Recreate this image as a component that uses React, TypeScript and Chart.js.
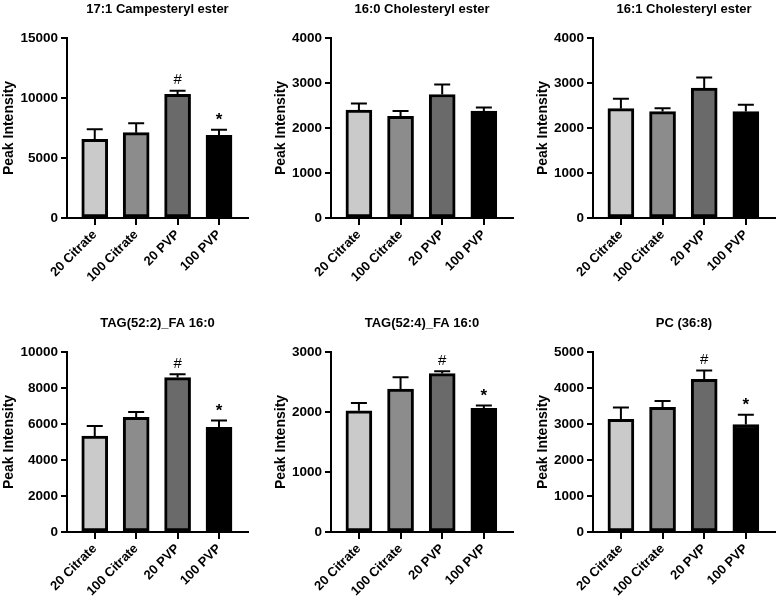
import React, { useEffect, useRef } from 'react';
import { Chart, registerables } from 'chart.js';

Chart.register(...registerables);

// ---------- data ----------
const categories = ['20 Citrate', '100 Citrate', '20 PVP', '100 PVP'];
const barColors = ['#cacaca', '#8c8c8c', '#6a6a6a', '#000000'];
const yAxisTitle = 'Peak Intensity';

const campesterylTitle = '17:1 Campesteryl ester';
const campesterylMean = [6560, 7110, 10310, 6890];
const campesterylSem = [830, 780, 300, 470];
const campesterylMarks = ['', '', '#', '*'];
const campesterylTicks = [0, 5000, 10000, 15000];

const chol160Title = '16:0 Cholesteryl ester';
const chol160Mean = [2400, 2260, 2745, 2375];
const chol160Sem = [145, 120, 220, 80];
const chol160Marks = ['', '', '', ''];
const chol160Ticks = [0, 1000, 2000, 3000, 4000];

const chol161Title = '16:1 Cholesteryl ester';
const chol161Mean = [2430, 2365, 2885, 2365];
const chol161Sem = [220, 75, 235, 150];
const chol161Marks = ['', '', '', ''];
const chol161Ticks = [0, 1000, 2000, 3000, 4000];

const tag522Title = 'TAG(52:2)_FA 16:0';
const tag522Mean = [5330, 6370, 8580, 5820];
const tag522Sem = [560, 300, 180, 370];
const tag522Marks = ['', '', '#', '*'];
const tag522Ticks = [0, 2000, 4000, 6000, 8000, 10000];

const tag524Title = 'TAG(52:4)_FA 16:0';
const tag524Mean = [2020, 2380, 2640, 2060];
const tag524Sem = [130, 200, 40, 47];
const tag524Marks = ['', '', '#', '*'];
const tag524Ticks = [0, 1000, 2000, 3000];

const pcTitle = 'PC (36:8)';
const pcMean = [3130, 3465, 4240, 2985];
const pcSem = [325, 175, 245, 275];
const pcMarks = ['', '', '#', '*'];
const pcTicks = [0, 1000, 2000, 3000, 4000, 5000];

// ---------- layout ----------
const FONT = '"Liberation Sans", Arial, Helvetica, sans-serif';

type PanelProps = {
  title: string;
  mean: number[];
  sem: number[];
  marks: string[];
  ticks: number[];
  left: number;
  top: number;
  width: number;
  yWidth: number;
  padRight: number;
};

const errorBarPlugin = {
  id: 'errorBars',
  afterDatasetsDraw(chart: any, _args: any, opts: any) {
    const { ctx } = chart;
    const xs = chart.scales.x;
    const ys = chart.scales.y;
    const mean: number[] = opts.mean;
    const sem: number[] = opts.sem;
    const marks: string[] = opts.marks;
    ctx.save();
    ctx.strokeStyle = '#000';
    ctx.lineWidth = 2;
    mean.forEach((m, i) => {
      const x = xs.getPixelForValue(i);
      const yb = ys.getPixelForValue(m);
      const yt = ys.getPixelForValue(m + sem[i]);
      ctx.beginPath();
      ctx.moveTo(x, yb);
      ctx.lineTo(x, yt);
      ctx.moveTo(x - 8, yt);
      ctx.lineTo(x + 8, yt);
      ctx.stroke();
      if (marks[i]) {
        ctx.fillStyle = '#000';
        ctx.font = marks[i] === '*' ? `bold 17px ${FONT}` : `15px ${FONT}`;
        ctx.textAlign = 'center';
        ctx.textBaseline = 'bottom';
        ctx.fillText(marks[i], x, marks[i] === '*' ? yt - 1 : yt - 3);
      }
    });
    ctx.restore();
  },
};

function Panel(p: PanelProps) {
  const ref = useRef<HTMLCanvasElement | null>(null);
  useEffect(() => {
    if (!ref.current) return;
    const chart = new Chart(ref.current, {
      type: 'bar',
      data: {
        datasets: [
          {
            data: p.mean.map((v, i) => ({ x: i, y: v })) as any,
            backgroundColor: barColors,
            borderColor: '#000',
            borderWidth: 3,
            borderSkipped: false,
            barThickness: 26,
          } as any,
        ],
      },
      options: {
        animation: false,
        responsive: false,
        devicePixelRatio: 1,
        layout: { padding: { left: 0, right: p.padRight, top: 0, bottom: 0 } },
        plugins: {
          legend: { display: false },
          tooltip: { enabled: false },
          title: {
            display: true,
            text: p.title,
            fullSize: false,
            color: '#000',
            font: { family: FONT, size: 13, weight: 'bold' },
            padding: { top: 2, bottom: 20.4 },
          },
          errorBars: { mean: p.mean, sem: p.sem, marks: p.marks },
        } as any,
        scales: {
          x: {
            type: 'linear',
            offset: false,
            min: -0.67,
            max: 3.7,
            afterBuildTicks: (s: any) => {
              s.ticks = categories.map((_, i) => ({ value: i }));
            },
            afterFit: (s: any) => {
              s.height = 82;
            },
            ticks: {
              callback: (v: any) => categories[v] ?? '',
              autoSkip: false,
              maxRotation: 45,
              minRotation: 45,
              color: '#000',
              font: { family: FONT, size: 13, weight: 'bold' },
              padding: 2,
            },
            grid: {
              display: true,
              offset: false,
              drawOnChartArea: false,
              drawTicks: true,
              tickLength: 7,
              color: '#000',
              lineWidth: 2,
            },
            border: { display: true, color: '#000', width: 2 },
          },
          y: {
            type: 'linear',
            min: 0,
            max: p.ticks[p.ticks.length - 1],
            afterBuildTicks: (s: any) => {
              s.ticks = p.ticks.map((v) => ({ value: v }));
            },
            afterFit: (s: any) => {
              s.width = p.yWidth;
            },
            ticks: {
              color: '#000',
              font: { family: FONT, size: 13.5, weight: 'bold' },
              padding: 3,
              callback: (v: any) => String(v),
            },
            grid: {
              display: true,
              drawOnChartArea: false,
              drawTicks: true,
              tickLength: 6,
              color: '#000',
              lineWidth: 2,
            },
            border: { display: true, color: '#000', width: 2 },
            title: {
              display: true,
              text: yAxisTitle,
              color: '#000',
              font: { family: FONT, size: 14, weight: 'bold' },
              padding: { top: 1, bottom: 0 },
            },
          },
        },
      } as any,
      plugins: [errorBarPlugin],
    });
    return () => chart.destroy();
  }, []);
  return (
    <canvas
      ref={ref}
      width={p.width}
      height={300}
      style={{ position: 'absolute', left: p.left, top: p.top, width: p.width, height: 300, display: 'block' }}
    />
  );
}

const columns = [
  { left: 0, width: 260, yWidth: 67, padRight: 12 },
  { left: 272, width: 250, yWidth: 59, padRight: 9 },
  { left: 534, width: 243, yWidth: 59, padRight: 2 },
];
const rowTops = [0, 314];

export default function App() {
  return (
    <div
      style={{
        position: 'absolute',
        left: 0,
        top: 0,
        width: 777,
        height: 600,
        overflow: 'hidden',
        background: '#fff',
      }}
    >
      <Panel title={campesterylTitle} mean={campesterylMean} sem={campesterylSem} marks={campesterylMarks} ticks={campesterylTicks} top={rowTops[0]} {...columns[0]} />
      <Panel title={chol160Title} mean={chol160Mean} sem={chol160Sem} marks={chol160Marks} ticks={chol160Ticks} top={rowTops[0]} {...columns[1]} />
      <Panel title={chol161Title} mean={chol161Mean} sem={chol161Sem} marks={chol161Marks} ticks={chol161Ticks} top={rowTops[0]} {...columns[2]} />
      <Panel title={tag522Title} mean={tag522Mean} sem={tag522Sem} marks={tag522Marks} ticks={tag522Ticks} top={rowTops[1]} {...columns[0]} />
      <Panel title={tag524Title} mean={tag524Mean} sem={tag524Sem} marks={tag524Marks} ticks={tag524Ticks} top={rowTops[1]} {...columns[1]} />
      <Panel title={pcTitle} mean={pcMean} sem={pcSem} marks={pcMarks} ticks={pcTicks} top={rowTops[1]} {...columns[2]} />
    </div>
  );
}
